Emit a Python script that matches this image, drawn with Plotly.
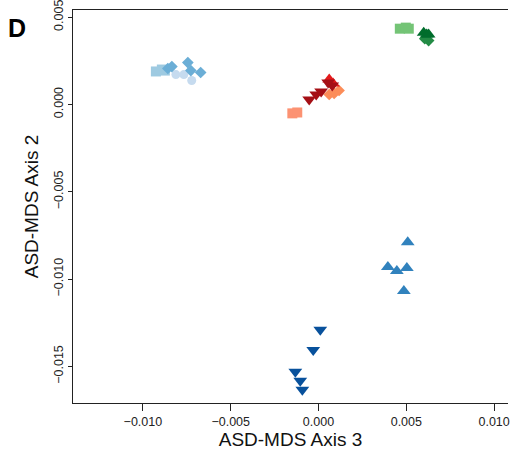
import plotly.graph_objects as go

# ASD-MDS coordinates (Axis 3 on x, Axis 2 on y), one list pair per group
sq_lblue_x = [-0.00926, -0.00892, -0.00875]
sq_lblue_y = [0.00189, 0.00200, 0.00194]
dm_blue_x = [-0.00835, -0.00744, -0.00727, -0.00671, -0.00858]
dm_blue_y = [0.00217, 0.00240, 0.00194, 0.00183, 0.00206]
ci_pale_x = [-0.00812, -0.00767, -0.00722]
ci_pale_y = [0.00171, 0.00171, 0.00137]

sq_salmon_x = [-0.00149, -0.00121]
sq_salmon_y = [-0.00051, -0.00046]
td_dred_x = [-0.00053, -0.00013, 0.00015, 0.00078, 0.00055]
td_dred_y = [0.00029, 0.00057, 0.00074, 0.00109, 0.00126]
tu_red_x = [0.00061, 0.00083]
tu_red_y = [0.00143, 0.00120]
dm_salmon_x = [0.00061, 0.00117, 0.00089]
dm_salmon_y = [0.00057, 0.00080, 0.00063]

sq_lgreen_x = [0.00463, 0.00497, 0.00514]
sq_lgreen_y = [0.00434, 0.00440, 0.00434]
tu_dgreen_x = [0.00599, 0.00616, 0.00627]
tu_dgreen_y = [0.00411, 0.00400, 0.00400]
dm_green_x = [0.00627, 0.00605]
dm_green_y = [0.00366, 0.00377]

tu_blue_x = [0.00508, 0.00395, 0.00446, 0.00503, 0.00486]
tu_blue_y = [-0.00789, -0.00931, -0.00954, -0.00937, -0.01069]
td_navy_x = [0.00010, -0.00030, -0.00132, -0.00104, -0.00092]
td_navy_y = [-0.01291, -0.01406, -0.01531, -0.01583, -0.01634]

tick_vals_x = [-0.010, -0.005, 0.000, 0.005, 0.010]
tick_text_x = ["\u22120.010", "\u22120.005", "0.000", "0.005", "0.010"]
tick_vals_y = [-0.015, -0.010, -0.005, 0.000, 0.005]
tick_text_y = ["\u22120.015", "\u22120.010", "\u22120.005", "0.000", "0.005"]

groups = [
    (sq_lblue_x, sq_lblue_y, "square", "#9ecae1", 10),
    (ci_pale_x, ci_pale_y, "circle", "#c6dbef", 9),
    (dm_blue_x, dm_blue_y, "diamond", "#6baed6", 9),
    (sq_salmon_x, sq_salmon_y, "square", "#fc9272", 10),
    (dm_salmon_x, dm_salmon_y, "diamond", "#fc8d59", 9),
    (tu_red_x, tu_red_y, "triangle-up", "#e31a1c", 12),
    (td_dred_x, td_dred_y, "triangle-down", "#a50f15", 12),
    (sq_lgreen_x, sq_lgreen_y, "square", "#74c476", 10),
    (dm_green_x, dm_green_y, "diamond", "#238b45", 9),
    (tu_dgreen_x, tu_dgreen_y, "triangle-up", "#006d2c", 12),
    (tu_blue_x, tu_blue_y, "triangle-up", "#3182bd", 12),
    (td_navy_x, td_navy_y, "triangle-down", "#08519c", 12),
]

fig = go.Figure()
for gx, gy, sym, col, sz in groups:
    fig.add_trace(go.Scatter(
        x=gx, y=gy, mode="markers",
        marker=dict(symbol=sym, color=col, size=sz, line=dict(width=0)),
        showlegend=False, hoverinfo="x+y",
    ))

font_family = "Liberation Sans, Arial, sans-serif"
axis_col = "#222222"
fig.update_layout(
    width=510, height=457,
    margin=dict(l=73, r=0, t=9, b=54),
    paper_bgcolor="white", plot_bgcolor="white",
    font=dict(family=font_family, color="#111111"),
    xaxis=dict(
        range=[-0.01398, 0.01079],
        tickvals=tick_vals_x, ticktext=tick_text_x,
        ticks="outside", ticklen=7, tickwidth=1, tickcolor=axis_col,
        showline=True, linecolor=axis_col, linewidth=1.2, mirror=True,
        showgrid=False, zeroline=False,
        ticklabeloverflow="allow",
        tickfont=dict(size=12.5, color=axis_col),
        title=dict(text="ASD-MDS Axis 3", font=dict(size=19), standoff=4),
    ),
    yaxis=dict(
        range=[-0.0171, 0.00541],
        tickvals=tick_vals_y, ticktext=tick_text_y,
        tickangle=-90,
        ticks="outside", ticklen=4, tickwidth=1, tickcolor=axis_col,
        showline=True, linecolor=axis_col, linewidth=1.2, mirror=False,
        showgrid=False, zeroline=False,
        ticklabeloverflow="allow",
        tickfont=dict(size=12.5, color=axis_col),
        title=dict(text="ASD-MDS Axis 2", font=dict(size=19), standoff=8),
    ),
    annotations=[dict(
        text="<b>D</b>", xref="paper", yref="paper",
        x=-0.155, y=0.995, xanchor="left", yanchor="top",
        showarrow=False, font=dict(size=25, color="#000000"),
    )],
)

fig.write_html("out.html")
